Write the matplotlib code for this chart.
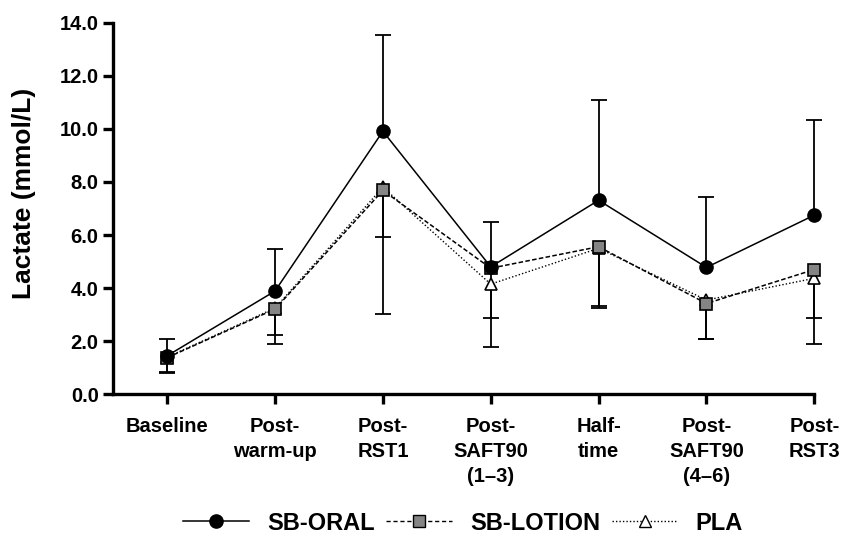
import matplotlib
matplotlib.use("Agg")
import matplotlib.pyplot as plt
import numpy as np
from matplotlib.lines import Line2D

plt.rcParams['font.family'] = ['Liberation Sans', 'DejaVu Sans']

categories = ["Baseline", "Post-\nwarm-up", "Post-\nRST1", "Post-\nSAFT90\n(1–3)",
              "Half-\ntime", "Post-\nSAFT90\n(4–6)", "Post-\nRST3"]

oral_mean = [1.45, 3.89, 9.91, 4.80, 7.31, 4.78, 6.75]
oral_sd = [0.65, 1.59, 3.64, 1.70, 3.76, 2.65, 3.57]

lotion_mean = [1.38, 3.21, 7.68, 4.75, 5.56, 3.42, 4.70]
lotion_sd = [0.59, 0.98, 1.77, 1.88, 2.24, 1.35, 1.82]

pla_mean = [1.40, 3.25, 7.80, 4.15, 5.50, 3.55, 4.37]
pla_sd = [0.55, 1.37, 4.78, 2.36, 2.25, 1.45, 2.49]

labels = ["SB-ORAL", "SB-LOTION", "PLA"]

fig = plt.figure(figsize=(8.45, 5.35), dpi=100)
ax = fig.add_axes([0.134, 0.263, 0.8297, 0.6946])

x = np.arange(len(categories))
ew = 1.3
cap = 12

def err(mean, sd, up, z):
    mean = np.array(mean); sd = np.array(sd)
    end = mean + sd if up else mean - sd
    ax.vlines(x, mean, end, color='black', lw=ew, zorder=z, clip_on=False)
    ax.plot(x, end, linestyle='none', marker='_', markersize=cap,
            markeredgewidth=ew, color='black', zorder=z, clip_on=False)

err(pla_mean, pla_sd, False, 1)
err(lotion_mean, lotion_sd, False, 1)
err(oral_mean, oral_sd, True, 1)

ax.plot(x, pla_mean, linestyle=(0, (1, 1.5)), color='black', lw=1.0,
        marker='^', markersize=9, markerfacecolor='white',
        markeredgecolor='black', markeredgewidth=1.2, zorder=3, clip_on=False)
ax.plot(x, lotion_mean, linestyle=(0, (3, 1.5)), color='black', lw=1.1,
        marker='s', markersize=8.5, markerfacecolor='#858585',
        markeredgecolor='black', markeredgewidth=1.2, zorder=4, clip_on=False)
ax.plot(x, oral_mean, linestyle='-', color='black', lw=1.1,
        marker='o', markersize=9.5, markerfacecolor='black',
        markeredgecolor='black', zorder=5, clip_on=False)

ax.set_xlim(-0.5, 6.0)
ax.set_ylim(0, 14)
yt = np.arange(0, 14.1, 2)
ax.set_yticks(yt)
ax.set_yticklabels([f"{v:.1f}" for v in yt], fontweight='bold', fontsize=14.5)
ax.set_xticks(x)
ax.set_xticklabels(categories, fontweight='bold', fontsize=14.5, va='top',
                   linespacing=1.4)

for s in ['top', 'right']:
    ax.spines[s].set_visible(False)
for s in ['left', 'bottom']:
    ax.spines[s].set_linewidth(2.4)
ax.tick_params(axis='both', width=2.4, length=7.5)
ax.tick_params(axis='x', pad=9)
ax.tick_params(axis='y', pad=3)

ax.set_ylabel("Lactate (mmol/L)", fontweight='bold', fontsize=19)
ax.yaxis.set_label_coords(-0.110, 0.54)

handles = [
    Line2D([], [], linestyle='-', color='black', lw=1.1, marker='o',
           markersize=9.5, markerfacecolor='black'),
    Line2D([], [], linestyle=(0, (3, 2)), color='black', lw=1.0, marker='s',
           markersize=8.5, markerfacecolor='#858585', markeredgecolor='black'),
    Line2D([], [], linestyle=(0, (1, 1.5)), color='black', lw=1.0, marker='^',
           markersize=9, markerfacecolor='white', markeredgecolor='black'),
]
fig.legend(handles, labels, loc='center', bbox_to_anchor=(0.548, 0.022),
           ncol=3, frameon=False, prop={'weight': 'bold', 'size': 17},
           handlelength=2.8, columnspacing=0.5, handletextpad=0.75)

fig.savefig("out.png", dpi=100)
